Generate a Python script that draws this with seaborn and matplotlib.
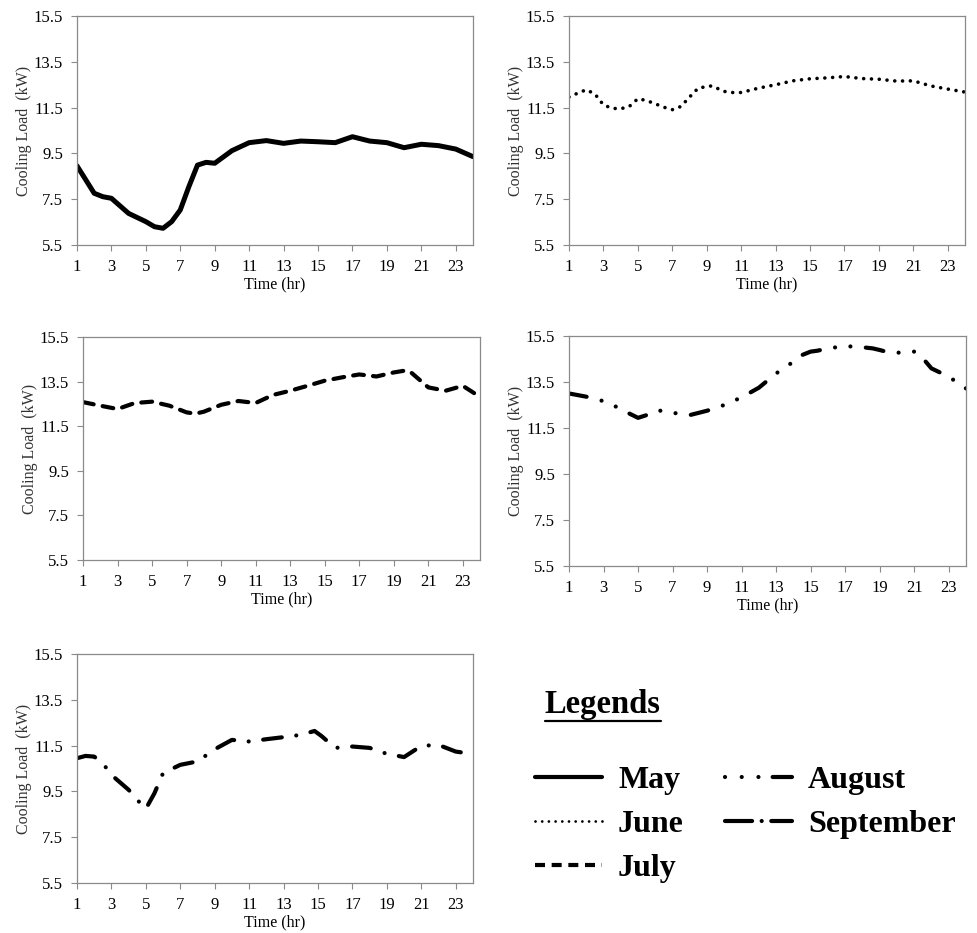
import matplotlib
matplotlib.use("Agg")
import matplotlib.pyplot as plt
from matplotlib.lines import Line2D
import seaborn as sns

# hourly cooling load (extra half-hour points where the curve bends)
may_hr = [1, 2, 2.5, 3, 4, 5, 5.5, 6, 6.5, 7, 7.5, 8, 8.5, 9, 10, 11, 12, 13, 14, 15, 16, 17, 18, 19, 20, 21, 22, 23, 24]
may_kw = [8.96, 7.76, 7.61, 7.54, 6.88, 6.52, 6.30, 6.23, 6.52, 7.03, 8.05, 8.99, 9.11, 9.07, 9.62, 9.97, 10.06,
          9.94, 10.04, 10.01, 9.97, 10.23, 10.04, 9.97, 9.75, 9.90, 9.84, 9.69, 9.36]

june_hr = [1, 1.5, 2, 2.5, 3, 3.5, 4, 4.5, 5, 5.5, 6, 6.5, 7, 7.5, 8, 8.5, 9, 9.3, 10, 10.5, 11, 12, 13, 14, 15,
           16, 17, 18, 19, 20, 21, 22, 23, 24]
june_kw = [11.96, 12.13, 12.28, 12.10, 11.62, 11.47, 11.45, 11.55, 11.89, 11.81, 11.67, 11.52, 11.41, 11.55, 11.96,
           12.35, 12.42, 12.45, 12.21, 12.16, 12.16, 12.35, 12.50, 12.67, 12.76, 12.80, 12.86, 12.77, 12.74, 12.66,
           12.67, 12.45, 12.31, 12.18]

july_hr = [1, 2, 3, 4, 5, 6, 7, 7.5, 8, 9, 10, 11, 12, 13, 14, 15, 16, 17, 18, 19, 19.7, 20, 21, 22, 23, 24]
july_kw = [12.58, 12.42, 12.27, 12.54, 12.60, 12.42, 12.12, 12.06, 12.15, 12.46, 12.63, 12.54, 12.90, 13.09, 13.31,
           13.54, 13.69, 13.82, 13.73, 13.91, 14.00, 13.91, 13.24, 13.09, 13.31, 12.81]

aug_hr = [1, 2, 2.5, 3.3, 4, 5, 5.5, 6, 6.5, 7, 8, 9, 10, 11, 12, 13, 14, 14.5, 15, 15.4, 16, 17, 18, 18.6, 19,
          19.5, 20, 21, 21.5, 22, 23, 24]
aug_kw = [13.00, 12.86, 12.77, 12.60, 12.31, 11.94, 12.06, 12.25, 12.25, 12.16, 12.06, 12.25, 12.50, 12.83, 13.25,
          13.87, 14.38, 14.67, 14.82, 14.86, 14.96, 15.06, 15.01, 14.96, 14.89, 14.79, 14.77, 14.82, 14.53, 14.09,
          13.73, 13.22]

sep_hr = [1, 1.5, 2, 2.5, 3, 4, 4.5, 5, 5.5, 6, 7, 8, 9, 10, 11, 12, 13, 14, 14.8, 15.2, 16, 17, 18, 19, 20, 21,
          22, 23, 24]
sep_kw = [10.95, 11.05, 11.02, 10.73, 10.22, 9.57, 9.13, 8.74, 9.42, 10.30, 10.66, 10.81, 11.34, 11.75, 11.68,
          11.78, 11.87, 11.97, 12.14, 11.92, 11.40, 11.46, 11.40, 11.14, 11.00, 11.49, 11.53, 11.24, 11.13]

months = ["May", "June", "July", "August", "September"]
x_ticks = list(range(1, 24, 2))
y_ticks = [5.5, 7.5, 9.5, 11.5, 13.5, 15.5]

sns.set_style("white")
plt.rcParams["font.family"] = ["Liberation Serif", "DejaVu Serif"]

fig = plt.figure(figsize=(9.78, 9.33), dpi=100)

# axes boxes in figure fractions (left, bottom, width, height)
boxes = [
    (0.0787, 0.7374, 0.4049, 0.2454),
    (0.5818, 0.7374, 0.4049, 0.2454),
    (0.0849, 0.3998, 0.4060, 0.2390),
    (0.5818, 0.3934, 0.4059, 0.2465),
    (0.0787, 0.0536, 0.4049, 0.2454),
]

styles = [
    dict(lw=3.6, linestyle="-", solid_capstyle="round"),
    dict(lw=2.6, linestyle=(0, (0.01, 2.15)), dash_capstyle="round"),
    dict(lw=3.0, linestyle=(0, (2.6, 2.2)), dash_capstyle="round"),
    dict(lw=3.0, linestyle=(0, (4.3, 3.7, 0.01, 3.7, 0.01, 3.7)), dash_capstyle="round"),
    dict(lw=3.0, linestyle=(0, (4.5, 3.5, 0.01, 3.5)), dash_capstyle="round"),
]

# legend samples are drawn with the pattern phase seen in the reference key
legend_styles = [
    dict(lw=3.0, linestyle="-"),
    dict(lw=2.0, linestyle=(0, (0.01, 2.4)), dash_capstyle="round"),
    dict(lw=3.0, linestyle=(0, (2.4, 1.6)), dash_capstyle="butt"),
    dict(lw=3.0, linestyle=(0, (0.01, 4.0, 0.01, 4.0, 0.01, 3.4, 6.5, 3.0)), dash_capstyle="round"),
    dict(lw=3.0, linestyle=(0, (6.5, 2.3, 0.01, 2.3, 8.0)), dash_capstyle="round"),
]

series = [(may_hr, may_kw), (june_hr, june_kw), (july_hr, july_kw), (aug_hr, aug_kw), (sep_hr, sep_kw)]

for box, (hr, kw), name, st in zip(boxes, series, months, styles):
    ax = fig.add_axes(box)
    sns.lineplot(x=hr, y=kw, ax=ax, color="black", sort=False, estimator=None, label=name, **st)
    if ax.get_legend() is not None:
        ax.get_legend().remove()

    ax.set_xlim(1, 24)
    ax.set_ylim(5.5, 15.5)
    ax.set_xticks(x_ticks)
    ax.set_yticks(y_ticks)
    ax.set_yticklabels([f"{v:.1f}" for v in y_ticks])
    ax.tick_params(axis="both", which="major", direction="out", length=4, width=0.8,
                   color="#8a8a8a", labelsize=12, pad=6, bottom=True, left=True, labelcolor="black")
    for sp in ax.spines.values():
        sp.set_color("#8a8a8a")
        sp.set_linewidth(0.9)
    ax.set_xlabel("Time (hr)", fontsize=11.5, labelpad=1, color="black")
    ax.set_ylabel("Cooling Load  (kW)", fontsize=11.5, labelpad=1, color="#333333")

# legend block in the empty bottom-right slot
title = fig.text(545 / 978, 1 - 713 / 933, "Legends", fontsize=23.5, fontweight="bold",
                 va="baseline", ha="left", color="black")

proxies = [Line2D([], [], color="black", **st) for st in legend_styles]
fig.legend(proxies, months, loc="upper left", bbox_to_anchor=(535 / 978, 1 - 766 / 933), ncol=2,
           frameon=False, prop={"size": 23, "weight": "bold"}, labelcolor="black", handlelength=2.1,
           handletextpad=0.5, columnspacing=1.28, labelspacing=0.45, borderpad=0, borderaxespad=0)

# underline the "Legends" heading
fig.canvas.draw()
bb = title.get_window_extent(renderer=fig.canvas.get_renderer()).transformed(fig.transFigure.inverted())
uy = 1 - 721 / 933
fig.add_artist(Line2D([bb.x0, bb.x1], [uy, uy], transform=fig.transFigure, color="black", lw=1.6))

fig.savefig("out.png", dpi=100)
